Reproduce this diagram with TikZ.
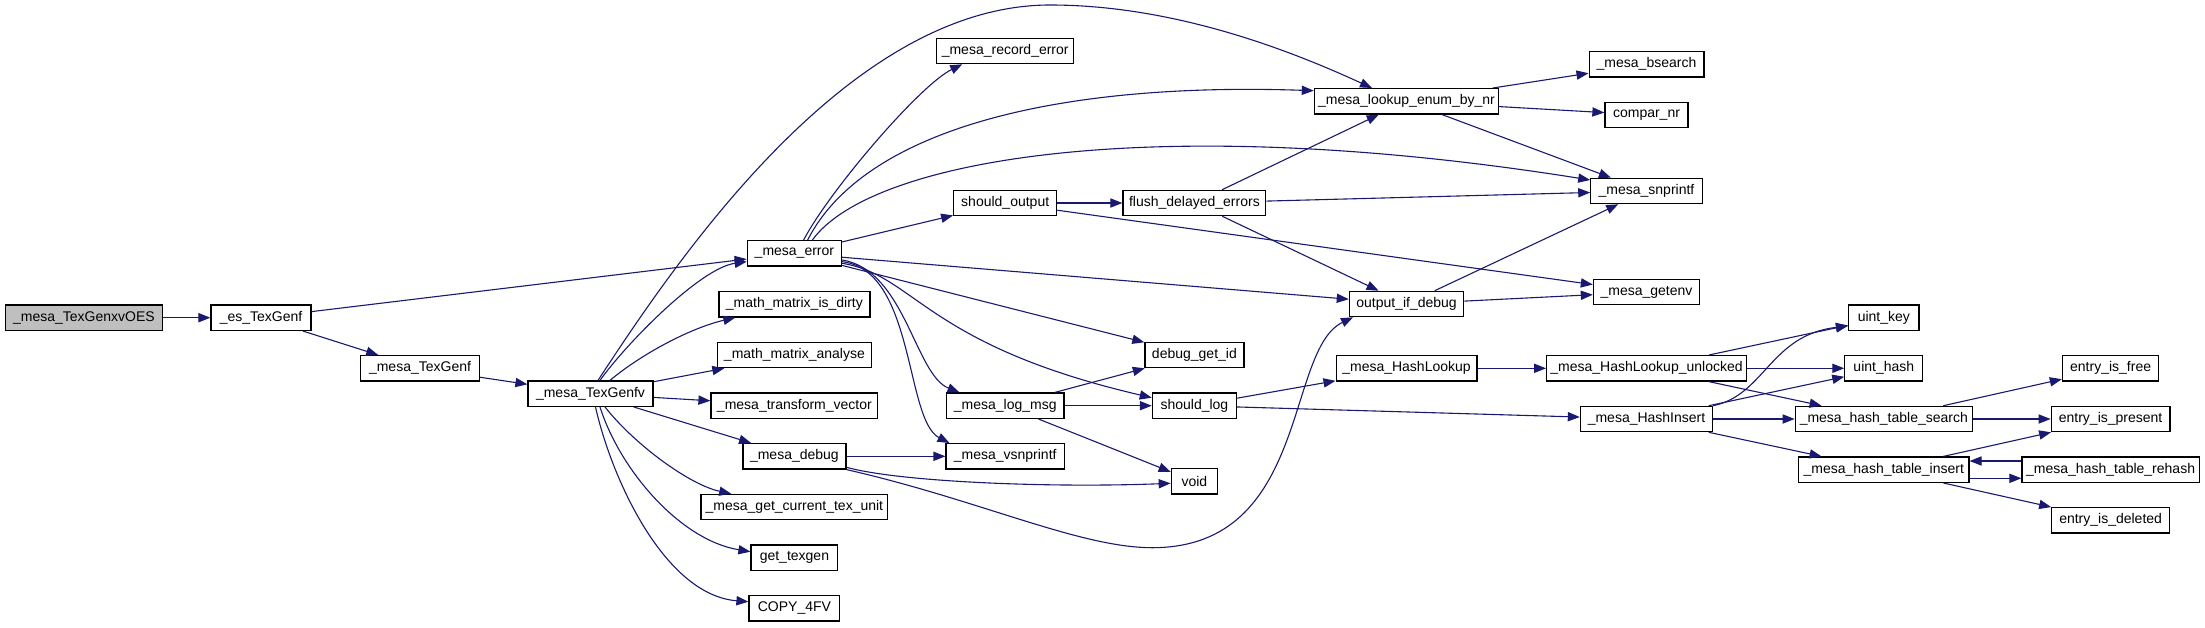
\documentclass[tikz,border=0pt]{standalone}
\usepackage{fontspec}
\setmainfont{Liberation Sans}
\usetikzlibrary{arrows.meta,calc}
\definecolor{navy}{HTML}{191970}
\definecolor{gray75}{HTML}{BFBFBF}
\tikzset{
  fn/.style={draw=black, line width=0.6pt, fill=white, minimum height=12.7pt,
    inner xsep=0pt, inner ysep=0pt, font=\fontsize{7}{8}\selectfont, anchor=center},
  rootfn/.style={fn, fill=gray75},
  e/.style={draw=navy, line width=0.55pt, -{Triangle[length=6pt,width=4.6pt]}},
}
\begin{document}
\begin{tikzpicture}[x=0.5pt,y=-0.5pt]
\fill[white] (0,0) rectangle (2205,627);
\useasboundingbox (0,0) rectangle (2205,627);
% column 0-3
\node[rootfn, minimum width=78.2pt] (root) at (83.9,317.7) {\_mesa\_TexGenxvOES};
\node[fn, minimum width=50pt] (es) at (261,317.7) {\_es\_TexGenf};
\node[fn, minimum width=59.35pt] (tgf) at (420,368.3) {\_mesa\_TexGenf};
\node[fn, minimum width=62.5pt] (fv) at (590.5,393.7) {\_mesa\_TexGenfv};
% column 4
\node[fn, minimum width=47.15pt] (err) at (794.4,253.3) {\_mesa\_error};
\node[fn, minimum width=75.5pt] (dirty) at (794.4,304.3) {\_math\_matrix\_is\_dirty};
\node[fn, minimum width=77pt] (analyse) at (794.4,355) {\_math\_matrix\_analyse};
\node[fn, minimum width=83.4pt] (transform) at (794.4,405.7) {\_mesa\_transform\_vector};
\node[fn, minimum width=51.5pt] (dbg) at (794.4,456.3) {\_mesa\_debug};
\node[fn, minimum width=93.4pt] (curtex) at (794.4,507) {\_mesa\_get\_current\_tex\_unit};
\node[fn, minimum width=43.4pt] (texgen) at (794.4,557.7) {get\_texgen};
\node[fn, minimum width=45.4pt] (copy) at (794.4,608.3) {COPY\_4FV};
% column 5
\node[fn, minimum width=68.65pt] (rec) at (1005.2,51) {\_mesa\_record\_error};
\node[fn, minimum width=51.5pt] (shout) at (1005.2,203) {should\_output};
\node[fn, minimum width=58.7pt] (logmsg) at (1005.2,405.7) {\_mesa\_log\_msg};
\node[fn, minimum width=59.15pt] (vsn) at (1005.2,456.3) {\_mesa\_vsnprintf};
% column 6
\node[fn, minimum width=71.4pt] (flush) at (1194.4,203) {flush\_delayed\_errors};
\node[fn, minimum width=49.5pt] (dgid) at (1194.4,355) {debug\_get\_id};
\node[fn, minimum width=42.05pt] (slog) at (1194.4,405.7) {should\_log};
\node[fn, minimum width=23.15pt] (void) at (1194.4,481.3) {void};
% column 7
\node[fn, minimum width=92.1pt] (lookup) at (1406.5,101.3) {\_mesa\_lookup\_enum\_by\_nr};
\node[fn, minimum width=57.15pt] (oid) at (1406.5,304) {output\_if\_debug};
\node[fn, minimum width=70.4pt] (hl) at (1406.5,368.3) {\_mesa\_HashLookup};
% column 8
\node[fn, minimum width=57.4pt] (bsearch) at (1646.5,64.3) {\_mesa\_bsearch};
\node[fn, minimum width=41.55pt] (compar) at (1646.5,115) {compar\_nr};
\node[fn, minimum width=55.7pt] (snp) at (1646.5,191) {\_mesa\_snprintf};
\node[fn, minimum width=53.1pt] (getenv) at (1646.5,292) {\_mesa\_getenv};
\node[fn, minimum width=99.85pt] (hlu) at (1646.5,368.3) {\_mesa\_HashLookup\_unlocked};
\node[fn, minimum width=66.1pt] (hins) at (1646.5,419) {\_mesa\_HashInsert};
% column 9
\node[fn, minimum width=35.2pt] (ukey) at (1883.8,317.7) {uint\_key};
\node[fn, minimum width=38.95pt] (uhash) at (1883.8,368.3) {uint\_hash};
\node[fn, minimum width=88.6pt] (hts) at (1883.8,419) {\_mesa\_hash\_table\_search};
\node[fn, minimum width=85.15pt] (hti) at (1883.8,469.7) {\_mesa\_hash\_table\_insert};
% column 10
\node[fn, minimum width=48.2pt] (efree) at (2110.6,368.3) {entry\_is\_free};
\node[fn, minimum width=59.45pt] (epres) at (2110.6,419) {entry\_is\_present};
\node[fn, minimum width=88.65pt] (rehash) at (2110.6,469.7) {\_mesa\_hash\_table\_rehash};
\node[fn, minimum width=58.85pt] (edel) at (2110.6,520.3) {entry\_is\_deleted};
% edges
\draw[e] (root) -- (es);
\draw[e] (es) -- (err);
\draw[e] (es) -- (tgf);
\draw[e] (tgf) -- (fv);
\draw[e] ($(fv.north)+(7.5,0)$) .. controls (680,255) and (850,5) .. (1050,5) .. controls (1180,5) and (1300,55) .. ($(lookup.north)+(-34.5,0)$);
\draw[e] ($(fv.north)+(9.5,0)$) .. controls (625,345) and (700,268) .. ($(err.west)+(0,8.4)$);
\draw[e] ($(fv.north)+(19.5,0)$) .. controls (640,355) and (690,328) .. ($(dirty.south west)+(17,0)$);
\draw[e] (fv) -- (analyse);
\draw[e] (fv) -- (transform);
\draw[e] (fv) -- (dbg);
\draw[e] ($(fv.south)+(14.5,0)$) .. controls (635,445) and (690,485) .. ($(curtex.north west)+(30.8,0)$);
\draw[e] ($(fv.south)+(9.5,0)$) .. controls (620,470) and (680,540) .. ($(texgen.west)+(0,-6)$);
\draw[e] ($(fv.south)+(5,0)$) .. controls (612,480) and (665,595) .. ($(copy.west)+(0,-6.6)$);
\draw[e] ($(err.north)+(9.2,0)$) .. controls (830,190) and (920,85) .. ($(rec.south west)+(26.3,0)$);
\draw[e] ($(err.north)+(13.2,0)$) .. controls (865,128) and (1060,82) .. ($(lookup.west)+(0,-10.6)$);
\draw[e] ($(err.north)+(18,0)$) .. controls (870,160) and (1150,110) .. ($(snp.west)+(0,-11)$);
\draw[e] (err) -- (shout);
\draw[e] (err) -- (oid);
\draw[e] (err) -- (dgid);
\draw[e] ($(err.east)+(0,6.7)$) .. controls (905,270) and (915,375) .. ($(logmsg.north west)+(13.6,0)$);
\draw[e] ($(err.east)+(0,10)$) .. controls (915,275) and (925,345) .. ($(slog.west)+(0,-8)$);
\draw[e] ($(err.east)+(0,8.4)$) .. controls (915,270) and (905,420) .. ($(vsn.north west)+(4,0)$);
\draw[e] (shout) -- (flush);
\draw[e] (shout) -- (getenv);
\draw[e] (flush) -- (lookup);
\draw[e] (flush) -- (snp);
\draw[e] (flush) -- (oid);
\draw[e] (lookup) -- (bsearch);
\draw[e] (lookup) -- (compar);
\draw[e] (lookup) -- (snp);
\draw[e] (oid) -- (snp);
\draw[e] (oid) -- (getenv);
\draw[e] (logmsg) -- (dgid);
\draw[e] (logmsg) -- (slog);
\draw[e] (logmsg) -- (void);
\draw[e] (dbg) -- (vsn);
\draw[e] ($(dbg.east)+(0,11)$) .. controls (900,482) and (1050,488) .. ($(void.west)+(0,2)$);
\draw[e] (dbg.south east) .. controls (980,500) and (1080,548) .. (1153,547.7) .. controls (1310,547) and (1285,350) .. ($(oid.south west)+(4.3,0)$);
\draw[e] (slog) -- (hl);
\draw[e] (slog) -- (hins);
\draw[e] (hl) -- (hlu);
\draw[e] (hlu) -- (ukey);
\draw[e] (hlu) -- (uhash);
\draw[e] (hlu) -- (hts);
\draw[e] (hins.north east) .. controls (1765,395) and (1770,335) .. ($(ukey.west)+(0,8.3)$);
\draw[e] (hins) -- (uhash);
\draw[e] (hins) -- (hts);
\draw[e] (hins) -- (hti);
\draw[e] (hts) -- (efree);
\draw[e] (hts) -- (epres);
\draw[e] (hti) -- (epres);
\draw[e] ($(hti.east)+(0,8.6)$) -- ($(rehash.west)+(0,8.6)$);
\draw[e] ($(rehash.west)+(0,-8.7)$) -- ($(hti.east)+(0,-8.7)$);
\draw[e] (hti) -- (edel);
\end{tikzpicture}
\end{document}
